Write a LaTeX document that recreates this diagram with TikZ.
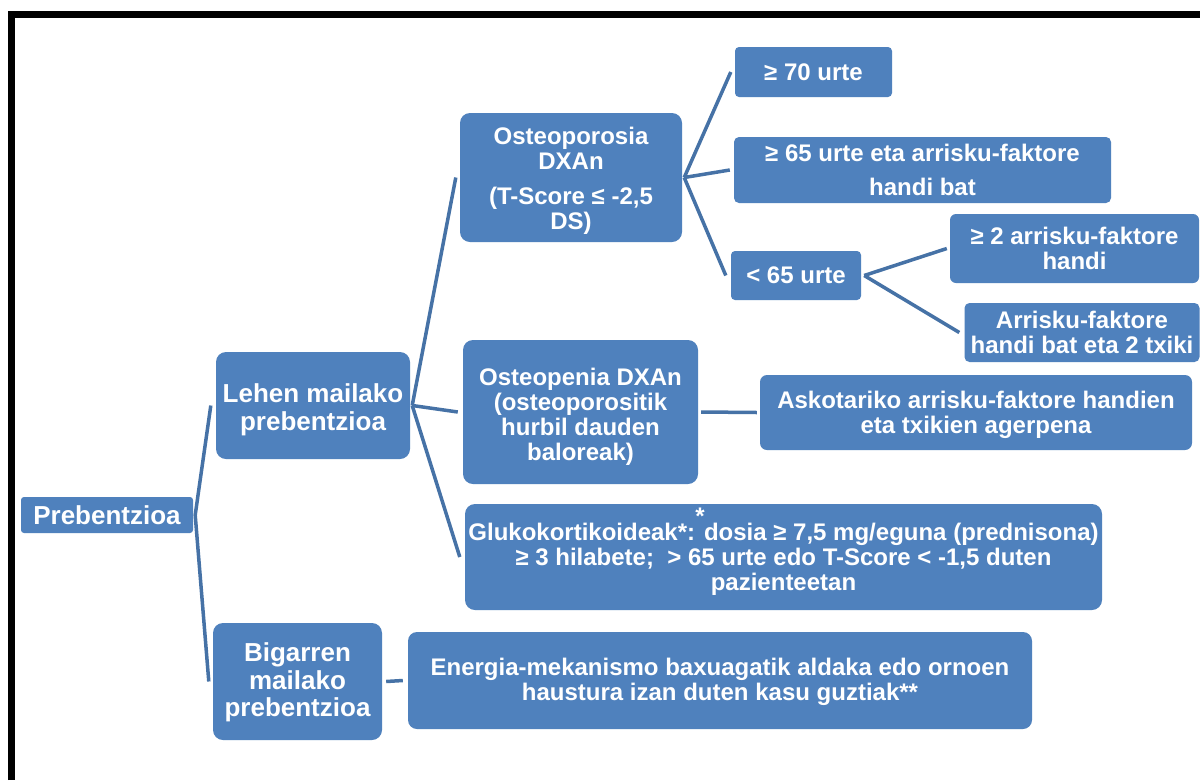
\documentclass[tikz,border=0pt]{standalone}
\usepackage{fontspec}
\setmainfont{Liberation Sans}
\definecolor{boxblue}{HTML}{4F81BD}
\definecolor{linkblue}{HTML}{4672A6}
\newcommand{\topstrut}[1]{\rule{0pt}{#1}}
\begin{document}
\begin{tikzpicture}[x=1pt,y=-1pt,
  sbox/.style={fill=boxblue,text=white,align=center,inner sep=0pt,
    font=\bfseries\fontsize{24}{25}\selectfont},
  bigfont/.style={font=\bfseries\fontsize{26}{27.5}\selectfont},
  startext/.style={text=white,inner sep=0pt,font=\bfseries\fontsize{24}{25}\selectfont},
  link/.style={draw=linkblue,line width=3.5pt}]
\useasboundingbox (0,0) rectangle (1200,780);
\fill[white] (0,0) rectangle (1200,780);
\draw[line width=7pt] (11.5,780) -- (11.5,14.5) -- (1200,14.5);

% level 0 and 1
\node[sbox,bigfont,rounded corners=3pt,minimum width=172pt,minimum height=36pt] (root) at (107,515) {Prebentzioa};
\node[sbox,bigfont,rounded corners=10pt,minimum width=194pt,minimum height=107pt] (lehen) at (313,405.5) {\topstrut{27pt}Lehen mailako\\prebentzioa};
\node[sbox,bigfont,rounded corners=10pt,minimum width=169pt,minimum height=117pt] (bigarren) at (297.5,681.5) {\topstrut{21pt}Bigarren\\mailako\\prebentzioa};

% level 2
\node[sbox,rounded corners=10pt,minimum width=222pt,minimum height=129pt] (osp) at (571,177.5) {\topstrut{24.5pt}Osteoporosia\\DXAn\\[10pt](T-Score ≤ -2,5\\DS)};
\node[sbox,rounded corners=10pt,minimum width=235pt,minimum height=144pt] (ope) at (580.5,412) {\topstrut{26pt}Osteopenia DXAn\\(osteoporositik\\hurbil dauden\\baloreak)};
\node[sbox,rounded corners=10pt,minimum width=637pt,minimum height=106pt] (gluko) at (783.5,557) {\topstrut{22.5pt}Glukokortikoideak*: dosia ≥ 7,5 mg/eguna (prednisona)\\≥ 3 hilabete;\ \ > 65 urte edo T-Score < -1,5 duten\\pazienteetan};
\node[startext,anchor=base] (gstar) at (700,524) {*};
\node[sbox,rounded corners=9pt,minimum width=624pt,minimum height=97pt] (energia) at (720,680.5) {\topstrut{20pt}Energia-mekanismo baxuagatik aldaka edo ornoen\\haustura izan duten kasu guztiak**};

% level 3
\node[sbox,rounded corners=4pt,minimum width=157pt,minimum height=50pt] (s70) at (813.5,72) {≥ 70 urte};
\node[sbox,rounded corners=5pt,minimum width=377pt,minimum height=66pt] (s65) at (922.5,170) {≥ 65 urte eta arrisku-faktore\\[9pt]handi bat};
\node[sbox,rounded corners=4pt,minimum width=130pt,minimum height=49pt] (lt65) at (796,275.5) {< 65 urte};
\node[sbox,rounded corners=7pt,minimum width=432pt,minimum height=75pt] (asko) at (976,412.5) {\topstrut{22pt}Askotariko arrisku-faktore handien\\eta txikien agerpena};

% level 4
\node[sbox,rounded corners=6pt,minimum width=249pt,minimum height=69pt] (two) at (1074.5,248.5) {≥ 2 arrisku-faktore\\handi};
\node[sbox,rounded corners=5pt,minimum width=235pt,minimum height=59pt] (arr) at (1082,332.5) {Arrisku-faktore\\handi bat eta 2 txiki};

% connectors
\draw[link] ([xshift=2pt]root.east) -- ([xshift=-5pt]lehen.west);
\draw[link] ([xshift=2pt]root.east) -- ([xshift=-4pt]bigarren.west);
\draw[link] ([xshift=2pt]lehen.east) -- ([xshift=-4pt]osp.west);
\draw[link] ([xshift=2pt]lehen.east) -- ([xshift=-5pt]ope.west);
\draw[link] ([xshift=2pt]lehen.east) -- ([xshift=-5pt]gluko.west);
\draw[link] ([xshift=2pt]osp.east) -- ([xshift=-4pt]s70.west);
\draw[link] ([xshift=2pt]osp.east) -- ([xshift=-4pt]s65.west);
\draw[link] ([xshift=2pt]osp.east) -- ([xshift=-5pt]lt65.west);
\draw[link] ([xshift=3pt]lt65.east) -- ([xshift=-3pt]two.west);
\draw[link] ([xshift=3pt]lt65.east) -- ([xshift=-5pt]arr.west);
\draw[link] ([xshift=3pt]ope.east) -- ([xshift=-3pt]asko.west);
\draw[link] ([xshift=4pt]bigarren.east) -- ([xshift=-5pt]energia.west);
\end{tikzpicture}
\end{document}
